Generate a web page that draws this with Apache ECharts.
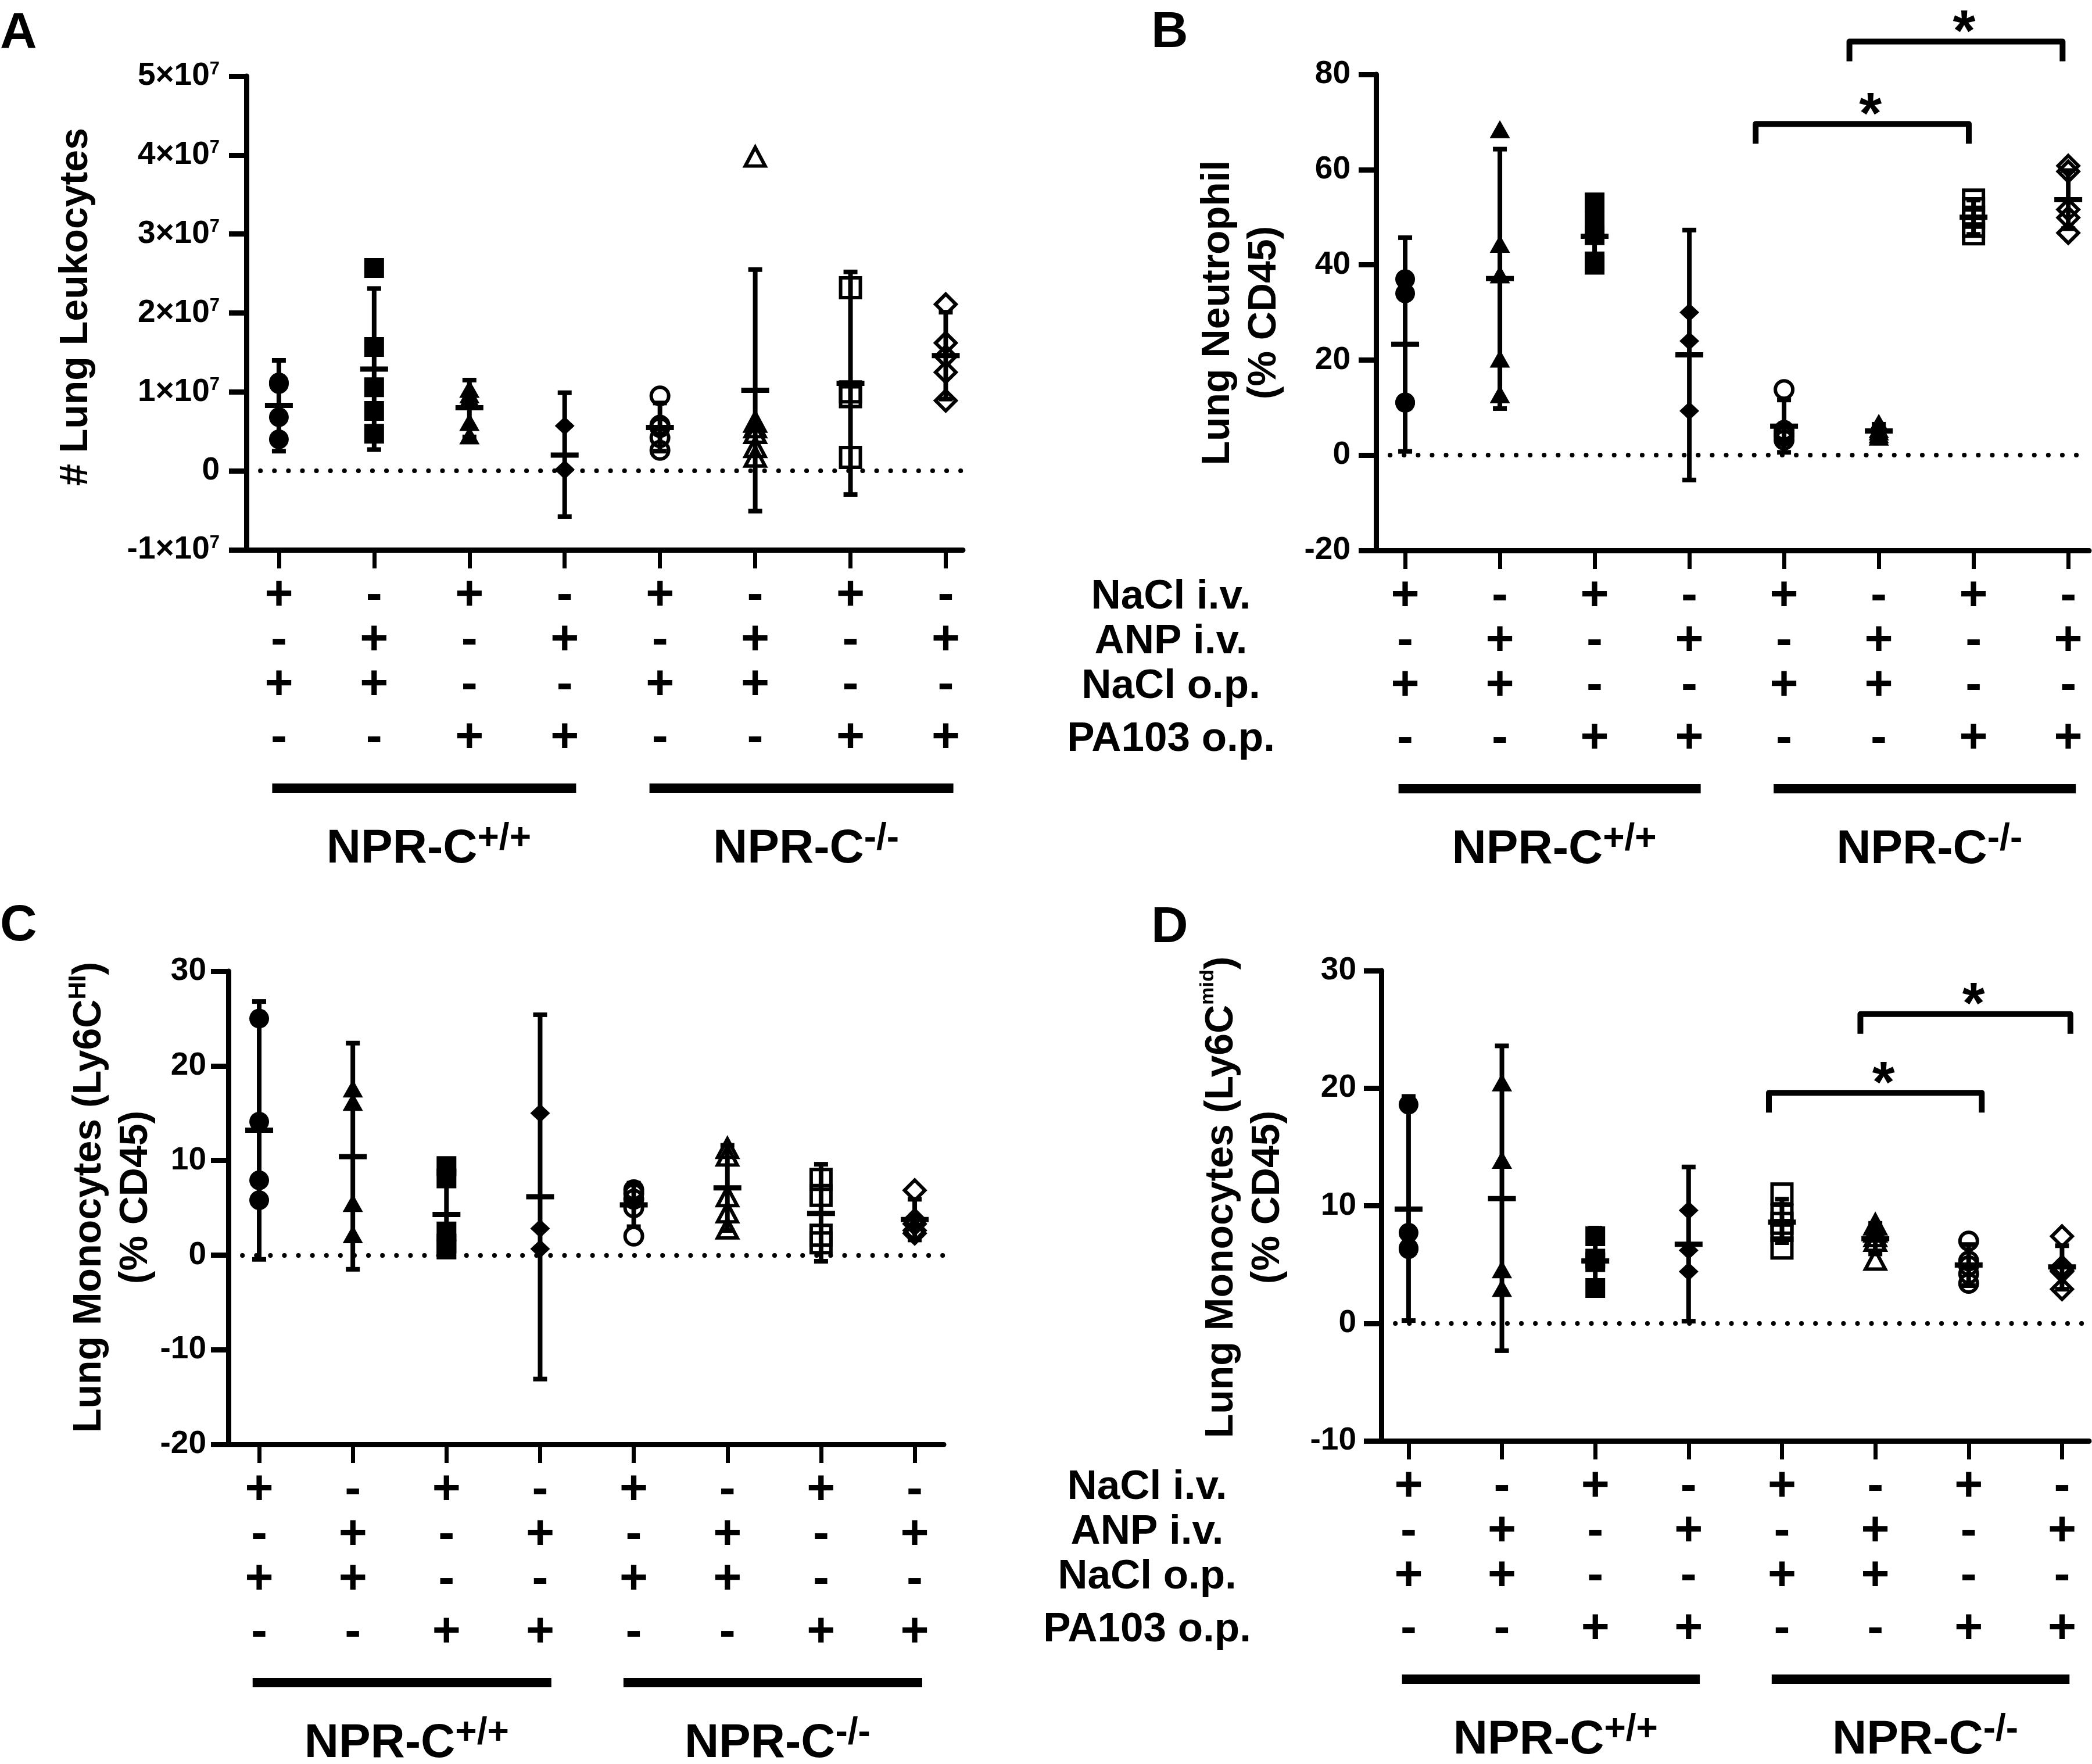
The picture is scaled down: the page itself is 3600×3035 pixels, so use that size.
<!DOCTYPE html>
<html><head><meta charset="utf-8">
<script src="https://cdn.jsdelivr.net/npm/echarts@6/dist/echarts.min.js"></script>
<style>html,body{margin:0;padding:0;background:#fff}#c{width:3600px;height:3035px}</style>
</head><body><div id="c"></div>
<script>
// ---------- condition rows (x tick labels) ----------
const naclIV  = ['+','-','+','-','+','-','+','-'];
const anpIV   = ['-','+','-','+','-','+','-','+'];
const naclOP  = ['+','+','-','-','+','+','-','-'];
const pa103OP = ['-','-','+','+','-','-','+','+'];
const conditionNames = ['NaCl i.v.','ANP i.v.','NaCl o.p.','PA103 o.p.'];
const genotypes = [['NPR-C','+/+'],['NPR-C','-/-']];

// ---------- Panel A: # Lung Leukocytes ----------
const leukocyteValues = [
  [1.12e7, 1.10e7, 0.68e7, 0.40e7],
  [2.57e7, 1.57e7, 1.06e7, 0.76e7, 0.47e7],
  [1.04e7, 0.97e7, 0.92e7, 0.62e7, 0.45e7],
  [0.57e7, 0.02e7, 0.01e7],
  [0.95e7, 0.58e7, 0.55e7, 0.42e7, 0.26e7],
  [3.98e7, 0.62e7, 0.55e7, 0.48e7, 0.30e7, 0.18e7],
  [2.32e7, 1.00e7, 0.94e7, 0.17e7],
  [2.11e7, 1.62e7, 1.45e7, 1.25e7, 0.89e7]
];
const leukocyteMean = [0.83e7, 1.29e7, 0.80e7, 0.20e7, 0.55e7, 1.02e7, 1.11e7, 1.46e7];
const leukocyteCI = [[0.25e7,1.40e7],[0.27e7,2.31e7],[0.43e7,1.15e7],[-0.58e7,0.99e7],[0.25e7,0.86e7],[-0.51e7,2.55e7],[-0.30e7,2.52e7],[0.91e7,2.01e7]];
const leukocyteMarkers = ['fcircle','fsquare','ftriangle','fdiamond','ocircle','otriangle','osquare','odiamond'];

// ---------- Panel B: Lung Neutrophil (% CD45) ----------
const neutrophilValues = [
  [37.0, 34.0, 11.1, 11.0],
  [68.5, 44.4, 38.0, 20.3, 12.8],
  [53.1, 49.1, 46.2, 40.7, 40.0],
  [30.0, 24.0, 9.3],
  [13.8, 5.2, 4.5, 4.0, 3.2],
  [6.8, 5.5, 5.0, 4.4, 3.9],
  [53.6, 51.8, 50.0, 48.1, 46.5],
  [60.8, 59.6, 51.6, 49.9, 46.7]
];
const neutrophilMean = [23.3, 37.1, 46.0, 21.1, 6.1, 5.1, 50.0, 53.7];
const neutrophilCI = [[0.8,45.7],[9.8,64.3],[39.3,52.5],[-5.2,47.3],[0.6,11.6],[3.7,6.5],[46.4,53.6],[47.6,59.8]];
const neutrophilMarkers = ['fcircle','ftriangle','fsquare','fdiamond','ocircle','ftriangle','osquare','odiamond'];
const neutrophilBrackets = [[4.70, 6.95, 69.6], [5.69, 7.94, 86.9]];

// ---------- Panel C: Lung Monocytes (Ly6C HI) ----------
const monoHiValues = [
  [25.0, 14.1, 7.9, 5.8],
  [17.6, 16.2, 5.5, 2.2],
  [9.4, 8.1, 2.5, 1.2, 0.6],
  [15.0, 2.8, 0.65],
  [6.9, 6.5, 5.9, 5.0, 2.0],
  [11.3, 10.5, 6.2, 4.5, 2.8],
  [8.0, 6.3, 2.1, 1.3],
  [6.85, 3.7, 3.3, 2.6, 2.3]
];
const monoHiMean = [13.2, 10.4, 4.3, 6.16, 5.3, 7.1, 4.4, 3.75];
const monoHiCI = [[-0.45,26.8],[-1.5,22.4],[0.0,8.6],[-13.1,25.4],[3.0,7.6],[2.6,11.6],[-0.65,9.6],[1.6,5.9]];
const monoHiMarkers = ['fcircle','ftriangle','fsquare','fdiamond','ocircle','otriangle','osquare','odiamond'];

// ---------- Panel D: Lung Monocytes (Ly6C mid) ----------
const monoMidValues = [
  [18.6, 7.7, 6.4, 6.3],
  [20.5, 13.9, 4.6, 3.0],
  [7.4, 5.5, 5.2, 3.0],
  [9.6, 6.2, 4.4],
  [11.0, 9.2, 8.5, 7.9, 6.4],
  [8.4, 7.8, 7.4, 7.0, 5.4],
  [7.0, 5.3, 4.9, 4.2, 3.4],
  [7.4, 4.8, 4.5, 4.4, 2.9]
];
const monoMidMean = [9.72, 10.6, 5.3, 6.73, 8.6, 7.2, 4.96, 4.8];
const monoMidCI = [[0.23,19.3],[-2.33,23.6],[2.5,8.1],[0.18,13.3],[6.86,10.56],[5.9,8.5],[3.2,6.7],[2.9,6.6]];
const monoMidMarkers = ['fcircle','ftriangle','fsquare','fdiamond','osquare','otriangle','ocircle','odiamond'];
const monoMidBrackets = [[4.86, 7.14, 19.6], [5.84, 8.09, 26.3]];

// ---------- styles / layout ----------
const FONT = '"Liberation Sans", Arial, sans-serif';
const catValues = naclIV.map((_, i) => i + 1);
const markerStyles = {
  fcircle:   {symbol:'circle',   size:34,      filled:true},
  fsquare:   {symbol:'rect',     size:34,      filled:true},
  ftriangle: {symbol:'triangle', size:[35,31], filled:true},
  fdiamond:  {symbol:'diamond',  size:[34,32], filled:true},
  ocircle:   {symbol:'circle',   size:30,      filled:false},
  otriangle: {symbol:'triangle', size:[34,32], filled:false},
  osquare:   {symbol:'rect',     size:34,      filled:false},
  odiamond:  {symbol:'diamond',  size:35,      filled:false}
};
const groupSpans = [[0.93, 4.12], [4.89, 8.08]];
const rowOffsets = [80, 157, 234, 325];

const panels = [
  {letter:'A', grid:{left:424, top:131, width:1233, height:815}, x:[0.659, 8.18], y:[-1e7, 5e7, 1e7],
   values:leukocyteValues, mean:leukocyteMean, ci:leukocyteCI, markers:leukocyteMarkers, sci:true, labelMargin:46,
   letterPos:[0, 58], title:'{t|# Lung Leukocytes}', titlePos:[131, 528], rowLabelX:null, brackets:null},
  {letter:'B', grid:{left:2368, top:128, width:1227, height:819}, x:[0.693, 8.22], y:[-20, 80, 20],
   values:neutrophilValues, mean:neutrophilMean, ci:neutrophilCI, markers:neutrophilMarkers, sci:false, labelMargin:44,
   letterPos:[1981, 57], title:'{t|Lung Neutrophil}\n{t|(% CD45)}', titlePos:[2136, 538], rowLabelX:2015, brackets:neutrophilBrackets},
  {letter:'C', grid:{left:393, top:1671, width:1231, height:814}, x:[0.671, 8.31], y:[-20, 30, 10],
   values:monoHiValues, mean:monoHiMean, ci:monoHiCI, markers:monoHiMarkers, sci:false, labelMargin:38,
   letterPos:[0, 1594], title:'{t|Lung Monocytes (Ly6C}{s|HI}{t|)}\n{t|(% CD45)}', titlePos:[194, 2060], rowLabelX:null, brackets:null},
  {letter:'D', grid:{left:2377, top:1670, width:1218, height:809}, x:[0.708, 8.29], y:[-10, 30, 10],
   values:monoMidValues, mean:monoMidMean, ci:monoMidCI, markers:monoMidMarkers, sci:false, labelMargin:43,
   letterPos:[1981, 1597], title:'{t|Lung Monocytes (Ly6C}{u|mid}{t|)}\n{t|(% CD45)}', titlePos:[2142, 2060], rowLabelX:1974, brackets:monoMidBrackets}
];

function conditionLabel(v) {
  const i = Math.round(v) - 1;
  return '{r|' + naclIV[i] + '}\n{r|' + anpIV[i] + '}\n{r|' + naclOP[i] + '}\n{q|' + pa103OP[i] + '}';
}
const rowRich = {
  r: {fontSize:84, fontWeight:'bold', fontFamily:FONT, color:'#000', lineHeight:77},
  q: {fontSize:84, fontWeight:'bold', fontFamily:FONT, color:'#000', lineHeight:105}
};
const tickRich = {
  m: {fontSize:55, fontWeight:'bold', fontFamily:FONT, color:'#000', lineHeight:55},
  s: {fontSize:31, fontWeight:'bold', fontFamily:FONT, color:'#000', lineHeight:31, verticalAlign:'top'}
};

function renderErr(params, api) {
  const x = api.value(0);
  const m = api.coord([x, api.value(1)]);
  const lo = api.coord([x, api.value(2)]);
  const hi = api.coord([x, api.value(3)]);
  const st = {stroke:'#000', lineWidth:8};
  return {type:'group', children:[
    {type:'line', shape:{x1:lo[0], y1:lo[1], x2:hi[0], y2:hi[1]}, style:st},
    {type:'line', shape:{x1:lo[0]-12, y1:lo[1], x2:lo[0]+12, y2:lo[1]}, style:st},
    {type:'line', shape:{x1:hi[0]-12, y1:hi[1], x2:hi[0]+12, y2:hi[1]}, style:st},
    {type:'line', shape:{x1:m[0]-24, y1:m[1], x2:m[0]+24, y2:m[1]}, style:{stroke:'#000', lineWidth:9}}
  ]};
}
function renderBracket(params, api) {
  const p1 = api.coord([api.value(0), api.value(2)]);
  const p2 = api.coord([api.value(1), api.value(2)]);
  const drop = 34;
  return {type:'group', children:[
    {type:'polyline', shape:{points:[[p1[0], p1[1]+drop],[p1[0], p1[1]],[p2[0], p2[1]],[p2[0], p2[1]+drop]]},
     style:{stroke:'#000', lineWidth:10, fill:null, lineJoin:'round'}},
    {type:'text', x:(p1[0]+p2[0])/2 + 14, y:p1[1] - 12,
     style:{text:'*', fontSize:100, fontWeight:'bold', fontFamily:FONT, fill:'#000', align:'center', verticalAlign:'middle'}}
  ]};
}

const grids = [], xAxes = [], yAxes = [], series = [];
panels.forEach((p, gi) => {
  grids.push(Object.assign({containLabel:false}, p.grid));
  xAxes.push({gridIndex:gi, type:'value', min:p.x[0], max:p.x[1],
    axisLine:{show:true, onZero:false, lineStyle:{color:'#000', width:9}},
    axisTick:{show:true, customValues:catValues, length:32, lineStyle:{color:'#000', width:7}},
    axisLabel:{show:true, customValues:catValues, margin:41, formatter:conditionLabel, rich:rowRich, color:'#000'},
    splitLine:{show:false}});
  yAxes.push({gridIndex:gi, type:'value', min:p.y[0], max:p.y[1], interval:p.y[2],
    axisLine:{show:true, onZero:false, lineStyle:{color:'#000', width:9}},
    axisTick:{show:true, length:30, lineStyle:{color:'#000', width:9}},
    axisLabel:{show:true, margin:p.labelMargin, color:'#000', rich:tickRich,
      formatter: v => p.sci ? (v === 0 ? '{m|0}' : '{m|' + Math.round(v / 1e7) + '×10}{s|7}') : '{m|' + v + '}'},
    splitLine:{show:false}});
  series.push({type:'custom', xAxisIndex:gi, yAxisIndex:gi, silent:true, z:2,
    data:p.mean.map((m, i) => [i + 1, m, p.ci[i][0], p.ci[i][1]]), renderItem:renderErr});
  p.values.forEach((vals, i) => {
    const ms = markerStyles[p.markers[i]];
    const s = {type:'scatter', xAxisIndex:gi, yAxisIndex:gi, z:3, silent:true,
      symbol:ms.symbol, symbolSize:ms.size,
      itemStyle: ms.filled ? {color:'#000', borderWidth:0, opacity:1}
                           : {color:'rgba(0,0,0,0)', borderColor:'#000', borderWidth:6, opacity:1},
      data: vals.map(v => [i + 1, v])};
    if (i === 0) {
      s.markLine = {silent:true, symbol:['none','none'], label:{show:false}, animation:false,
        lineStyle:{color:'#000', width:8, type:[0.1, 24], cap:'round'}, data:[{yAxis:0}]};
    }
    series.push(s);
  });
  if (p.brackets) {
    series.push({type:'custom', xAxisIndex:gi, yAxisIndex:gi, silent:true, z:4, clip:false,
      data:p.brackets, renderItem:renderBracket});
  }
});

const chart = echarts.init(document.getElementById('c'), null, {renderer:'canvas', width:3600, height:3035});
chart.setOption({animation:false, backgroundColor:'#fff', grid:grids, xAxis:xAxes, yAxis:yAxes, series:series});

const titleRich = {
  t: {fontSize:68, fontWeight:'bold', fontFamily:FONT, lineHeight:80, fill:'#000'},
  s: {fontSize:42, fontWeight:'bold', fontFamily:FONT, lineHeight:42, verticalAlign:'top', fill:'#000'},
  u: {fontSize:34, fontWeight:'bold', fontFamily:FONT, lineHeight:34, verticalAlign:'top', fill:'#000'}
};
const genoRich = {
  m: {fontSize:82, fontWeight:'bold', fontFamily:FONT, lineHeight:100, fill:'#000'},
  s: {fontSize:64, fontWeight:'bold', fontFamily:FONT, lineHeight:60, verticalAlign:'top', fill:'#000'}
};
const graphic = [];
panels.forEach((p, gi) => {
  graphic.push({type:'text', x:p.letterPos[0], y:p.letterPos[1],
    style:{text:p.letter, fontSize:88, fontWeight:'bold', fontFamily:FONT, fill:'#000', align:'left', verticalAlign:'middle'}});
  graphic.push({type:'text', x:p.titlePos[0], y:p.titlePos[1], rotation:Math.PI/2,
    style:{text:p.title, rich:titleRich, fill:'#000', align:'center', verticalAlign:'middle'}});
  const bottom = p.grid.top + p.grid.height;
  groupSpans.forEach((span, k) => {
    const x1 = chart.convertToPixel({gridIndex:gi}, [span[0], 0])[0];
    const x2 = chart.convertToPixel({gridIndex:gi}, [span[1], 0])[0];
    graphic.push({type:'rect', shape:{x:x1, y:bottom + 402, width:x2 - x1, height:16}, style:{fill:'#000'}});
    graphic.push({type:'text', x:(x1 + x2) / 2 + 8, y:bottom + 515,
      style:{text:'{m|' + genotypes[k][0] + '}{s|' + genotypes[k][1] + '}', rich:genoRich, fill:'#000', align:'center', verticalAlign:'middle'}});
  });
  if (p.rowLabelX) {
    conditionNames.forEach((name, r) => {
      graphic.push({type:'text', x:p.rowLabelX, y:bottom + rowOffsets[r],
        style:{text:name, fontSize:71, fontWeight:'bold', fontFamily:FONT, fill:'#000', align:'center', verticalAlign:'middle'}});
    });
  }
});
chart.setOption({graphic:graphic});
</script></body></html>
